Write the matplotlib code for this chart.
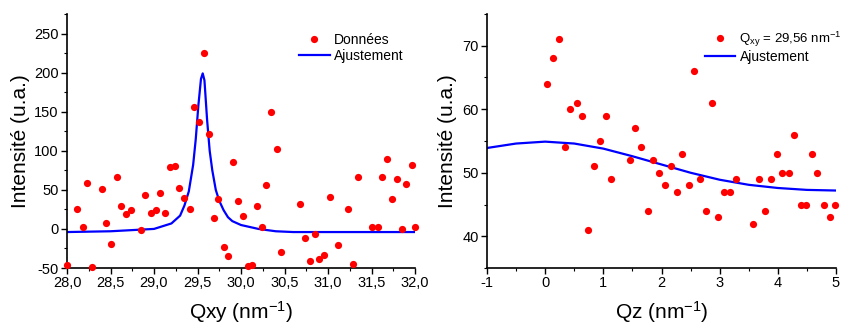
import matplotlib
matplotlib.use("Agg")
import matplotlib.pyplot as plt
from matplotlib.ticker import MultipleLocator, FuncFormatter
from matplotlib import font_manager

names = {f.name for f in font_manager.fontManager.ttflist}
narrow = "Liberation Sans Narrow" if "Liberation Sans Narrow" in names else "Liberation Sans"
plt.rcParams["font.family"] = ["Liberation Sans", "DejaVu Sans"]
plt.rcParams["axes.unicode_minus"] = False
plt.rcParams["mathtext.fontset"] = "custom"
plt.rcParams["mathtext.rm"] = "Liberation Sans"
plt.rcParams["mathtext.it"] = "Liberation Sans"

# ---- Left panel: data (Qxy scan) ----
qxy_x = [28.00, 28.12, 28.18, 28.23, 28.29, 28.40, 28.45, 28.51, 28.57, 28.62, 28.68, 28.74,
         28.85, 28.90, 28.96, 29.02, 29.07, 29.13, 29.18, 29.24, 29.29, 29.35, 29.41, 29.46,
         29.52, 29.57, 29.63, 29.69, 29.74, 29.80, 29.85, 29.91, 29.97, 30.02, 30.08, 30.13,
         30.18, 30.24, 30.29, 30.34, 30.41, 30.46, 30.68, 30.74, 30.79, 30.85, 30.90, 30.95,
         31.02, 31.12, 31.23, 31.29, 31.34, 31.51, 31.57, 31.62, 31.68, 31.74, 31.79, 31.85,
         31.90, 31.96, 32.00]
qxy_y = [-46, 25, 2, 59, -49, 51, 7, -19, 67, 29, 19, 24,
         -2, 44, 21, 24, 46, 21, 79, 80, 53, 40, 26, 156,
         137, 225, 121, 14, 38, -23, -35, 86, 36, 17, -48, -46,
         29, 3, 56, 150, 102, -29, 32, -12, -41, -7, -38, -34,
         41, -21, 26, -45, 66, 2, 3, 67, 89, 38, 64, 0,
         58, 82, 3]
# fit curve
fit1_x = [28.0, 28.5, 29.0, 29.2, 29.3, 29.35, 29.4, 29.45, 29.48, 29.51, 29.54, 29.56,
          29.58, 29.61, 29.64, 29.67, 29.71, 29.75, 29.8, 29.85, 29.9, 30.0, 30.2, 30.4, 30.6, 31.0, 32.0]
fit1_y = [-4, -3, 0, 7, 17, 30, 48, 82, 115, 158, 192, 199,
          190, 140, 100, 75, 50, 36, 24, 15, 10, 5, 0, -3, -4, -4, -4]

# ---- Right panel: data (Qz scan) ----
qz_x = [0.03, 0.13, 0.23, 0.34, 0.43, 0.54, 0.64, 0.74, 0.84, 0.94, 1.04, 1.14,
        1.45, 1.55, 1.65, 1.76, 1.85, 1.96, 2.06, 2.16, 2.26, 2.36, 2.47, 2.56,
        2.67, 2.77, 2.86, 2.97, 3.07, 3.17, 3.28, 3.58, 3.68, 3.78, 3.88, 3.98,
        4.08, 4.19, 4.28, 4.39, 4.48, 4.59, 4.68, 4.79, 4.89, 4.99]
qz_y = [64, 68, 71, 54, 60, 61, 59, 41, 51, 55, 59, 49,
        52, 57, 54, 44, 52, 50, 48, 51, 47, 53, 48, 66,
        49, 44, 61, 43, 47, 47, 49, 42, 49, 44, 49, 53,
        50, 50, 56, 45, 45, 53, 50, 45, 43, 45]
fit2_x = [-1.0, -0.5, 0.0, 0.5, 1.0, 1.5, 2.0, 2.5, 3.0, 3.5, 4.0, 4.5, 5.0]
fit2_y = [53.9, 54.6, 54.9, 54.6, 53.8, 52.6, 51.3, 50.0, 48.9, 48.1, 47.6, 47.3, 47.2]

W, H = 841, 325
fig = plt.figure(figsize=(W / 100, H / 100), dpi=100)
ax1 = fig.add_axes([67 / W, 57 / H, 348 / W, 254 / H])
ax2 = fig.add_axes([487 / W, 57 / H, 349 / W, 254 / H])

red = "#ff0000"
blue = "#0000ff"

ax1.plot(qxy_x, qxy_y, "o", color=red, ms=5.2, mec="none", label="Données", clip_on=False, zorder=3)
ax1.plot(fit1_x, fit1_y, "-", color=blue, lw=1.6, label="Ajustement", zorder=2)
ax1.set_xlim(28.0, 32.0)
ax1.set_ylim(-50, 275)
ax1.xaxis.set_major_locator(MultipleLocator(0.5))
ax1.xaxis.set_minor_locator(MultipleLocator(0.25))
ax1.yaxis.set_major_locator(MultipleLocator(50))
ax1.yaxis.set_minor_locator(MultipleLocator(25))
ax1.xaxis.set_major_formatter(FuncFormatter(lambda v, p: f"{v:.1f}".replace(".", ",")))
ax1.set_xlabel("Qxy (nm$^{-1}$)", fontsize=15, labelpad=6)
ax1.set_ylabel("Intensité (u.a.)", fontsize=15, labelpad=3)
ax1.legend(loc="upper left", bbox_to_anchor=(0.667, 0.925), frameon=False, fontsize=10,
           borderpad=0, handlelength=2.2, handletextpad=0.3, labelspacing=0.15, borderaxespad=0)

ax2.plot(qz_x, qz_y, "o", color=red, ms=5.2, mec="none", label="Q$_{xy}$ = 29,56 nm$^{-1}$", clip_on=False, zorder=3)
ax2.plot(fit2_x, fit2_y, "-", color=blue, lw=1.6, label="Ajustement", zorder=2)
ax2.set_xlim(-1, 5)
ax2.set_ylim(35, 75)
ax2.xaxis.set_major_locator(MultipleLocator(1))
ax2.xaxis.set_minor_locator(MultipleLocator(0.5))
ax2.yaxis.set_major_locator(MultipleLocator(10))
ax2.yaxis.set_minor_locator(MultipleLocator(5))
ax2.set_xlabel("Qz (nm$^{-1}$)", fontsize=15, labelpad=6)
ax2.set_ylabel("Intensité (u.a.)", fontsize=15, labelpad=4)
leg2 = ax2.legend(loc="upper left", bbox_to_anchor=(0.624, 0.937), frameon=False, fontsize=10,
                  borderpad=0, handlelength=2.2, handletextpad=0.3, labelspacing=0.08, borderaxespad=0)
leg2.get_texts()[0].set_fontsize(9.5)

for ax in (ax1, ax2):
    for s in ("top", "right"):
        ax.spines[s].set_visible(False)
    for s in ("left", "bottom"):
        ax.spines[s].set_linewidth(1.2)
    ax.tick_params(which="major", direction="out", length=4, width=1.0, labelsize=10.5, pad=2)
    ax.tick_params(which="minor", direction="out", length=2.5, width=0.8)
    for lab in ax.get_xticklabels() + ax.get_yticklabels():
        lab.set_family([narrow, "DejaVu Sans"])

fig.savefig("out.png", dpi=100)
